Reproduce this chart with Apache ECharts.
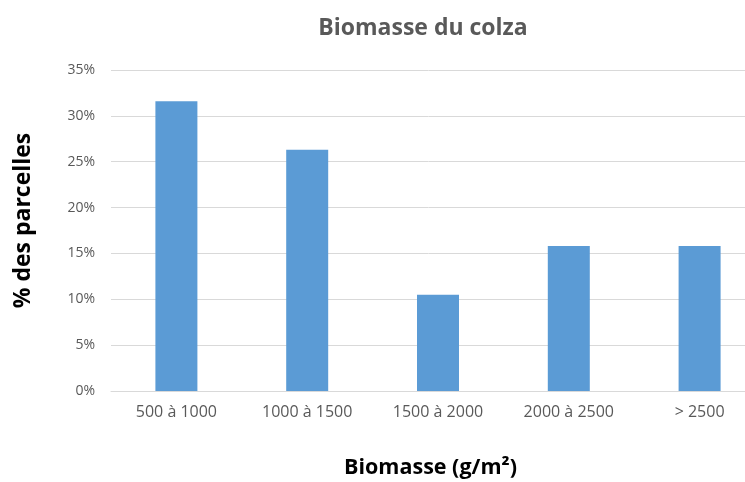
<!DOCTYPE html>
<html><head><meta charset="utf-8">
<script src="https://cdn.jsdelivr.net/npm/echarts@6/dist/echarts.min.js"></script>
<style>html,body{margin:0;padding:0;background:#fff}#c{width:745px;height:482px}</style>
</head><body><div id="c"></div>
<script>
const categories = ['500 à 1000', '1000 à 1500', '1500 à 2000', '2000 à 2500', '> 2500'];
const values = [31.6, 26.3, 10.5, 15.8, 15.8];
const yTicks = [0, 5, 10, 15, 20, 25, 30, 35];
const titleText = 'Biomasse du colza';
const xName = 'Biomasse (g/m²)';
const yName = '% des parcelles';

const chart = echarts.init(document.getElementById('c'));
const font = '"Open Sans", sans-serif';
chart.setOption({
  animation: false,
  title: {
    text: titleText, left: 418, top: 12, textAlign: 'center',
    textStyle: {fontFamily: font, fontSize: 23, fontWeight: 'bold', color: '#595959'}
  },
  grid: {left: 111, top: 70, width: 654, height: 321, containLabel: false, outerBoundsMode: 'none'},
  xAxis: {
    type: 'category', data: categories,
    axisLine: {lineStyle: {color: '#D9D9D9', width: 1}},
    axisTick: {show: false},
    axisLabel: {fontFamily: font, fontSize: 16, color: '#595959', margin: 13},
    name: xName, nameLocation: 'middle', nameGap: 66,
    nameTextStyle: {fontFamily: font, fontSize: 21.5, fontWeight: 'bold', color: '#000', padding: [0, 15, 0, 0]}
  },
  yAxis: {
    type: 'value', min: yTicks[0], max: yTicks[yTicks.length - 1], interval: 5,
    axisLine: {show: false}, axisTick: {show: false},
    splitLine: {lineStyle: {color: '#D9D9D9', width: 1}},
    axisLabel: {fontFamily: font, fontSize: 14, color: '#595959', margin: 16, formatter: '{value}%'},
    name: yName, nameLocation: 'middle', nameRotate: 90, nameGap: 76,
    nameTextStyle: {fontFamily: font, fontSize: 23, fontWeight: 'bold', color: '#000', padding: [0, 0, 0, 20]}
  },
  series: [{
    type: 'bar', data: values, barWidth: 42,
    itemStyle: {color: '#5B9BD5'}
  }]
});
</script></body></html>
